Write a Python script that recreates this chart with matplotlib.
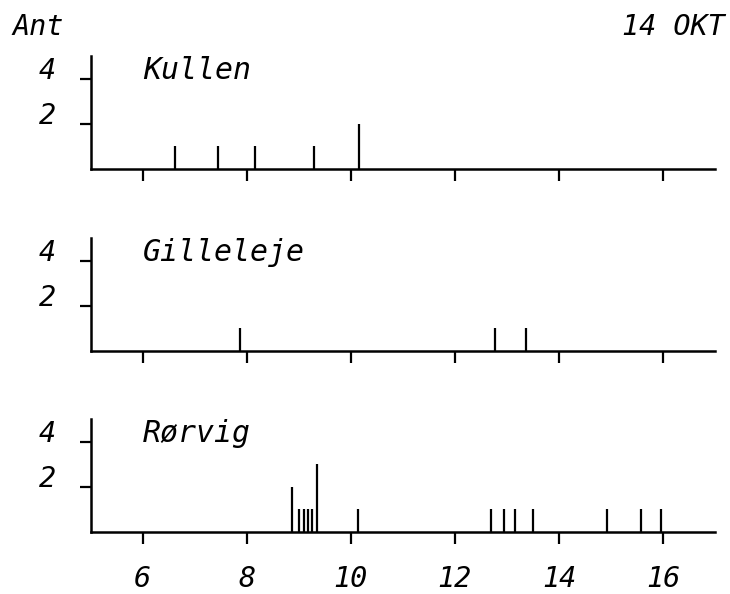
import matplotlib
matplotlib.use("Agg")
import matplotlib.pyplot as plt

plt.rcParams['font.family'] = ['DejaVu Sans Mono', 'DejaVu Sans']
plt.rcParams['font.style'] = 'italic'

stations = ["Kullen", "Gilleleje", "Rørvig"]
kullen_x = [6.62, 7.44, 8.15, 9.30, 10.15]
kullen_n = [1, 1, 1, 1, 2]
gilleleje_x = [7.87, 12.78, 13.36]
gilleleje_n = [1, 1, 1]
rorvig_x = [8.86, 9.00, 9.10, 9.18, 9.25, 9.35, 10.13, 12.69, 12.95, 13.15, 13.51, 14.92, 15.57, 15.96]
rorvig_n = [2, 1, 1, 1, 1, 3, 1, 1, 1, 1, 1, 1, 1, 1]
series_x = [kullen_x, gilleleje_x, rorvig_x]
series_n = [kullen_n, gilleleje_n, rorvig_n]
xticks = [6, 8, 10, 12, 14, 16]
yticks = [2, 4]
ylabel_text = "Ant"
date_text = "14 OKT"

W, H = 730, 594
fig = plt.figure(figsize=(W / 100, H / 100), dpi=100)

left = 90.7 / W
width = 624.3 / W
height = 113 / H
bottoms_px = [169, 351, 532]
fs = 20.5
fs_name = 21.5

for i, (name, xs, ns) in enumerate(zip(stations, series_x, series_n)):
    b = 1 - bottoms_px[i] / H
    ax = fig.add_axes([left, b, width, height])
    ax.set_xlim(5, 17)
    ax.set_ylim(0, 5)
    ax.vlines(xs, 0, ns, color='black', lw=1.6)
    for s in ['top', 'right']:
        ax.spines[s].set_visible(False)
    for s in ['left', 'bottom']:
        ax.spines[s].set_linewidth(1.8)
    ax.set_xticks(xticks)
    ax.set_yticks(yticks)
    ax.tick_params(axis='x', direction='out', length=8.6, width=1.6, pad=15, labelsize=fs)
    ax.tick_params(axis='y', direction='out', length=8, width=1.6, pad=17, labelsize=fs)
    ax.set_yticklabels([str(t) for t in yticks])
    for lbl in ax.get_yticklabels():
        lbl.set_va('baseline')
    if i < 2:
        ax.set_xticklabels([])
    else:
        ax.set_xticklabels([str(t) for t in xticks])
    ax.text(6.0, 4.0, name, fontsize=fs_name, ha='left', va='baseline')
    ax.patch.set_visible(False)

fig.text(12 / W, 1 - 35 / H, ylabel_text, fontsize=fs, ha='left', va='baseline')
fig.text(725 / W, 1 - 35 / H, date_text, fontsize=fs, ha='right', va='baseline')

fig.savefig("out.png", dpi=100)
